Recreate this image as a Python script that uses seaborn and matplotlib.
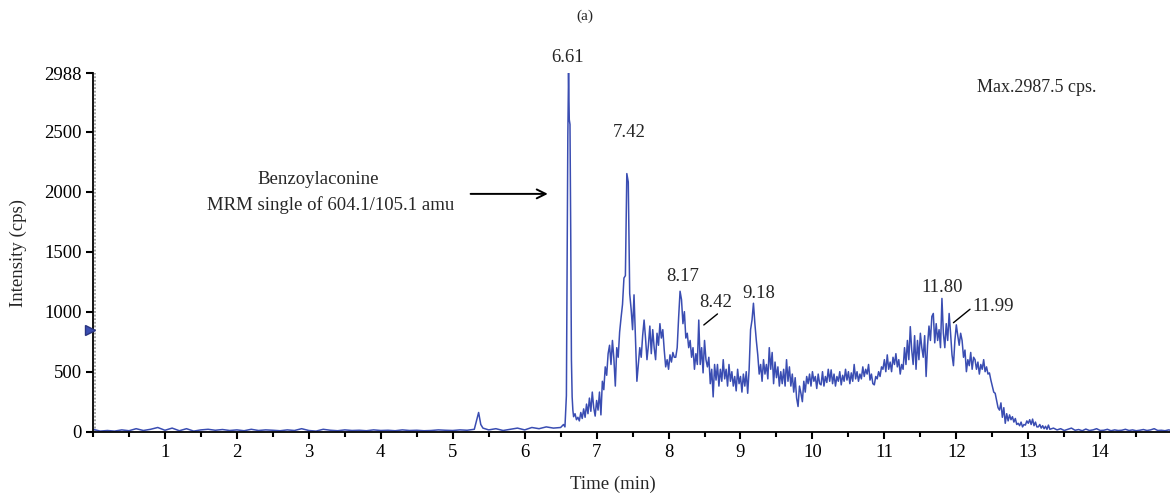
import numpy as np
import pandas as pd
import matplotlib
matplotlib.use("Agg")
import matplotlib.pyplot as plt
import seaborn as sns
from matplotlib.ticker import MultipleLocator, FixedLocator

# ---------------- data ----------------
# baseline 0.0 - 5.3 min, step 0.1
head_start, head_step = 0.0, 0.1
head_vals = [20, 5, 10, 5, 15, 8, 25, 10, 20, 35,
             12, 30, 8, 25, 5, 15, 20, 12, 18, 10,
             15, 8, 20, 10, 15, 12, 8, 15, 10, 25,
             10, 5, 20, 12, 8, 15, 10, 12, 8, 15,
             10, 12, 8, 15, 10, 12, 8, 10, 15, 12,
             10, 15, 12, 20]
# small peak near 5.36 min
blip_times = [5.33, 5.36, 5.39, 5.42]
blip_vals = [90, 160, 60, 30]
# baseline 5.5 - 6.5 min, step 0.1
pre_start, pre_step = 5.5, 0.1
pre_vals = [15, 25, 10, 20, 30, 15, 35, 25, 40, 30, 35]
# Benzoylaconine peak (6.61 min)
peak_times = [6.54, 6.56, 6.58, 6.60, 6.61, 6.62, 6.63, 6.64, 6.65, 6.66, 6.67, 6.68]
peak_vals = [60, 40, 300, 2460, 2988, 2600, 2560, 1680, 600, 290, 180, 125]
# main region 6.70 - 13.28 min, step 0.02
main_start, main_step = 6.70, 0.02
main_vals = [
    150, 100, 120, 90, 160, 110, 190, 120, 230, 150,      # 6.70
    280, 170, 330, 200, 130, 260, 180, 330, 140, 420,     # 6.90
    350, 540, 470, 650, 720, 560, 760, 610, 380, 700,     # 7.10
    620, 830, 950, 1060, 1280, 1300, 2150, 2080, 1150, 1020,  # 7.30
    850, 1140, 780, 420, 560, 700, 620, 800, 930, 780,    # 7.50
    600, 720, 880, 650, 850, 700, 600, 820, 720, 900,     # 7.70
    780, 850, 680, 540, 600, 520, 640, 580, 660, 620,     # 7.90
    620, 700, 950, 1170, 1100, 900, 1000, 780, 820, 700,  # 8.10
    760, 620, 700, 520, 650, 560, 930, 560, 700, 490,     # 8.30
    760, 600, 540, 620, 400, 520, 290, 560, 430, 560,     # 8.50
    380, 520, 420, 600, 440, 520, 380, 560, 420, 500,     # 8.70
    380, 460, 340, 520, 400, 460, 330, 480, 380, 500,     # 8.90
    320, 520, 850, 930, 1070, 900, 760, 640, 480, 560,    # 9.10
    420, 600, 480, 560, 440, 700, 520, 660, 400, 580,     # 9.30
    450, 540, 380, 500, 400, 520, 380, 600, 420, 540,     # 9.50
    380, 480, 330, 450, 280, 210, 380, 320, 250, 420,     # 9.70
    330, 460, 400, 480, 380, 500, 420, 460, 360, 480,     # 9.90
    400, 390, 500, 380, 460, 410, 520, 420, 515, 400,     # 10.10
    480, 380, 460, 420, 500, 390, 470, 420, 520, 430,     # 10.30
    500, 400, 490, 420, 560, 440, 500, 420, 480, 440,     # 10.50
    540, 460, 520, 480, 560, 430, 480, 400, 390, 460,     # 10.70
    440, 500, 460, 540, 520, 600, 500, 640, 520, 580,     # 10.90
    500, 620, 560, 650, 540, 600, 480, 560, 520, 700,     # 11.10
    560, 760, 600, 875, 680, 560, 800, 520, 760, 600,     # 11.30
    820, 700, 620, 800, 460, 720, 880, 760, 960, 985,     # 11.50
    740, 900, 760, 850, 700, 1110, 820, 700, 900, 760,    # 11.70
    985, 820, 640, 550, 760, 890, 800, 720, 820, 760,     # 11.90
    620, 680, 500, 600, 550, 660, 520, 620, 600, 520,     # 12.10
    580, 480, 560, 520, 600, 500, 540, 480, 490, 430,     # 12.30
    380, 330, 320, 260, 200, 180, 240, 120, 200, 70,      # 12.50
    150, 90, 140, 100, 125, 80, 110, 60, 70, 50,          # 12.70
    80, 40, 60, 55, 90, 70, 100, 60, 105, 50,             # 12.90
    80, 40, 40, 60, 30, 50, 25, 45, 20, 55,               # 13.10
]
# tail 13.30 - 14.95 min, step 0.05
tail_start, tail_step = 13.30, 0.05
tail_vals = [20, 30, 15, 25, 10, 20, 30, 12, 18, 8,
             22, 10, 15, 25, 10, 12, 20, 8, 15, 10,
             12, 20, 10, 15, 8, 12, 18, 10, 15, 25,
             10, 12, 8, 15, 10]

x_ticks = [1, 2, 3, 4, 5, 6, 7, 8, 9, 10, 11, 12, 13, 14]
y_ticks = [0, 500, 1000, 1500, 2000, 2500, 2988]
y_max = 2988
x_max = 14.97
marker_level = 847

peak_labels = ["6.61", "7.42", "8.17", "8.42", "9.18", "11.80", "11.99"]

# ---------------- assemble ----------------
def seg(start, step, vals):
    return [round(start + step * i, 4) for i in range(len(vals))], list(vals)

t_all, v_all = [], []
for tt, vv in [seg(head_start, head_step, head_vals),
               (blip_times, blip_vals),
               seg(pre_start, pre_step, pre_vals),
               (peak_times, peak_vals),
               seg(main_start, main_step, main_vals),
               seg(tail_start, tail_step, tail_vals)]:
    t_all += tt
    v_all += vv
df = pd.DataFrame({"time": t_all, "intensity": v_all})

# ---------------- plot ----------------
sns.set_theme(style="ticks")
plt.rcParams["font.family"] = ["Liberation Serif", "DejaVu Serif"]

W, H = 1170, 497
fig = plt.figure(figsize=(W / 100, H / 100), dpi=100)
ax = fig.add_axes([93 / W, 1 - 431.7 / H, (1170 - 93) / W, (431.7 - 73) / H])

line_color = "#3a4db2"
sns.lineplot(data=df, x="time", y="intensity", ax=ax, color=line_color,
             linewidth=1.1, estimator=None, sort=False)

ax.set_xlim(0, x_max)
ax.set_ylim(0, y_max)
ax.xaxis.set_major_locator(FixedLocator(x_ticks))
ax.xaxis.set_minor_locator(MultipleLocator(0.5))
ax.yaxis.set_major_locator(FixedLocator(y_ticks))
ax.set_xlabel("")
ax.set_ylabel("")
for s in ["top", "right"]:
    ax.spines[s].set_visible(False)
for s in ["left", "bottom"]:
    ax.spines[s].set_color("black")
    ax.spines[s].set_linewidth(1.3)
ax.tick_params(axis="both", which="major", direction="out", length=5, width=1.5,
               colors="black", labelsize=13.5, pad=3)
ax.tick_params(axis="x", which="minor", direction="out", length=3.5, width=1.5, colors="black")
ax.tick_params(axis="x", which="major", pad=4)

# gray dotted guide just right of the y axis
ax.axvline(0.03, color="#9a9a9a", lw=1.3, ls=(0, (1, 1)), zorder=1)
# level marker
ax.plot([-0.04], [marker_level], marker=">", color="#3a4db2", markersize=7,
        clip_on=False, zorder=5, markeredgecolor="#2a3580")

# peak labels
fs = 13.5
ax.text(6.60, 3120, peak_labels[0], ha="center", va="center", fontsize=fs)
ax.text(7.45, 2490, peak_labels[1], ha="center", va="center", fontsize=fs)
ax.text(8.20, 1290, peak_labels[2], ha="center", va="center", fontsize=fs)
ax.text(8.66, 1075, peak_labels[3], ha="center", va="center", fontsize=fs)
ax.plot([8.49, 8.68], [889, 981], color="black", lw=1.0)
ax.text(9.25, 1155, peak_labels[4], ha="center", va="center", fontsize=fs)
ax.text(11.80, 1205, peak_labels[5], ha="center", va="center", fontsize=fs)
ax.plot([11.96, 12.19], [908, 1020], color="black", lw=1.0)
ax.text(12.22, 1045, peak_labels[6], ha="left", va="center", fontsize=fs)

ax.text(13.12, 2864, "Max.2987.5 cps.", ha="center", va="center", fontsize=13)
ax.text(3.13, 2097, "Benzoylaconine", ha="center", va="center", fontsize=13.5)
ax.text(3.30, 1889, "MRM single of 604.1/105.1 amu", ha="center", va="center", fontsize=13.5)
ax.annotate("", xy=(6.36, 1981), xytext=(5.21, 1981),
            arrowprops=dict(arrowstyle="->", color="black", lw=1.4,
                            mutation_scale=16))

fig.text(585 / W, 1 - 16 / H, "(a)", ha="center", va="center", fontsize=11)
fig.text(613 / W, 1 - 484 / H, "Time (min)", ha="center", va="center", fontsize=13.5)
fig.text(18 / W, 1 - 253 / H, "Intensity (cps)", ha="center", va="center",
         fontsize=13.5, rotation=90)

fig.savefig("out.png", dpi=100)
